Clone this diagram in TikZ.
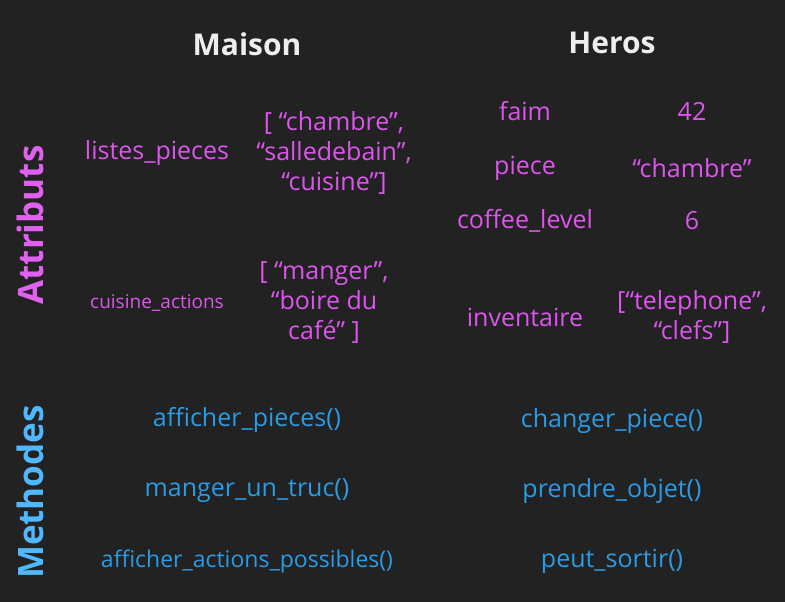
\documentclass[tikz,border=0pt]{standalone}
\usepackage{fontspec}
\setmainfont{Open Sans}
\definecolor{bg}{HTML}{222222}
\definecolor{mag}{HTML}{DD55EE}
\definecolor{magb}{HTML}{E060F0}
\definecolor{blu}{HTML}{2A9BE5}
\definecolor{blub}{HTML}{50B8FF}
\definecolor{wht}{HTML}{EEEEEE}
\begin{document}
\begin{tikzpicture}[x=1pt,y=-1pt,
  head/.style={text=wht,font=\fontsize{30}{34}\selectfont\bfseries},
  side/.style={font=\fontsize{35}{38}\selectfont\bfseries,rotate=90},
  attr/.style={text=mag,font=\fontsize{25}{30}\selectfont,align=center},
  attrs/.style={text=mag,font=\fontsize{19}{22}\selectfont,align=center},
  meth/.style={text=blu,font=\fontsize{25}{28}\selectfont,align=center},
  meths/.style={text=blu,font=\fontsize{23}{26}\selectfont,align=center}]
\fill[bg] (0,0) rectangle (785,602);
\useasboundingbox (0,0) rectangle (785,602);
\node[head] (maison) at (247,44) {Maison};
\node[head] (heros) at (612,43) {Heros};
\node[side,text=magb] (attributs) at (30,225) {Attributs};
\node[side,text=blub] (methodes) at (30,492) {Methodes};
\node[attr] (lp) at (157,153) {listes\_pieces};
\node[attr] (lpv) at (334,153) {[ “chambre”,\\“salledebain”,\\“cuisine”]};
\node[attrs] (ca) at (157,303) {cuisine\_actions};
\node[attr] (cav) at (324,303) {[ “manger”,\\“boire du\\café” ]};
\node[attr] (faim) at (525,111) {faim};
\node[attr] (faimv) at (692,111) {42};
\node[attr] (piece) at (525,168) {piece};
\node[attr] (piecev) at (692,168) {“chambre”};
\node[attr] (coffee) at (525,221) {coffee\_level};
\node[attr] (coffeev) at (692,221) {6};
\node[attr] (inv) at (525,317) {inventaire};
\node[attr] (invv) at (692,317) {[“telephone”,\\“clefs”]};
\node[meth] (m1) at (247,420) {afficher\_pieces()};
\node[meth] (m2) at (247,491) {manger\_un\_truc()};
\node[meths] (m3) at (247,561) {afficher\_actions\_possibles()};
\node[meth] (m4) at (612,421) {changer\_piece()};
\node[meth] (m5) at (612,491) {prendre\_objet()};
\node[meth] (m6) at (612,561) {peut\_sortir()};
\end{tikzpicture}
\end{document}
